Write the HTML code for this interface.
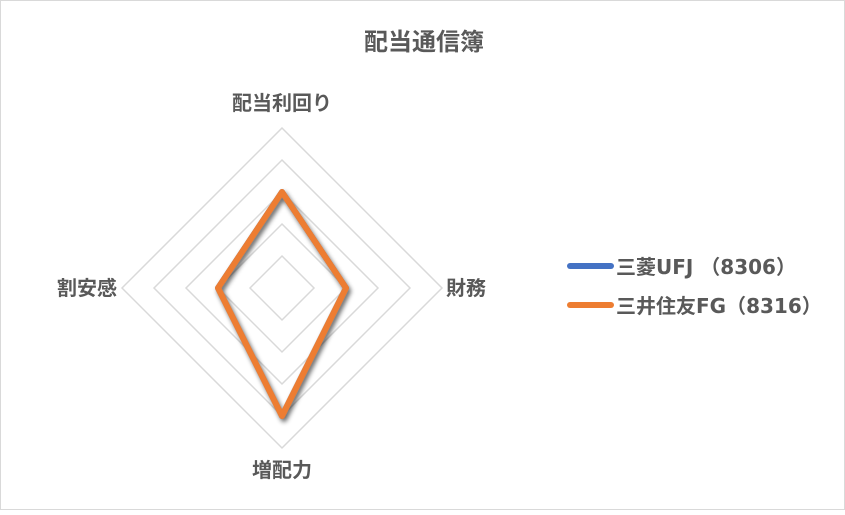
<!DOCTYPE html>
<html><head><meta charset="utf-8"><style>
html,body{margin:0;padding:0;background:#fff;}
body{width:845px;height:510px;overflow:hidden;}
svg text{font-family:"DejaVu Sans","Noto Sans CJK JP",sans-serif;font-weight:bold;fill:#595959;}
</style></head><body>
<svg width="845" height="510" viewBox="0 0 845 510" xmlns="http://www.w3.org/2000/svg">
<defs><filter id="sh" x="-20%" y="-20%" width="140%" height="140%"><feGaussianBlur in="SourceAlpha" stdDeviation="2.5"/><feOffset dx="2" dy="3" result="b"/><feComponentTransfer><feFuncA type="linear" slope="0.6"/></feComponentTransfer><feMerge><feMergeNode/><feMergeNode in="SourceGraphic"/></feMerge></filter></defs>
<rect x="0.5" y="0.5" width="844" height="509" fill="#fff" stroke="#d9d9d9"/>
<text x="424" y="50" font-size="24" text-anchor="middle">配当通信簿</text>
<g fill="none" stroke="#d9d9d9" stroke-width="1.5">
<polygon points="282,256 314,288 282,320 250,288"/>
<polygon points="282,224 346,288 282,352 218,288"/>
<polygon points="282,192 378,288 282,384 186,288"/>
<polygon points="282,160 410,288 282,416 154,288"/>
<polygon points="282,128 442,288 282,448 122,288"/>
</g>
<text x="282" y="110" font-size="20" text-anchor="middle">配当利回り</text>
<text x="446" y="295" font-size="20">財務</text>
<text x="282" y="477" font-size="20" text-anchor="middle">増配力</text>
<text x="117" y="295" font-size="20" text-anchor="end">割安感</text>
<polygon points="282,192 346,288 282,416 218,288" fill="none" stroke="#4472c4" stroke-width="6" stroke-linejoin="round"/>
<polygon points="282,192 346,288 282,416 218,288" fill="none" stroke="#ed7d31" stroke-width="6" stroke-linejoin="round" filter="url(#sh)"/>
<line x1="570" y1="266" x2="611" y2="266" stroke="#4472c4" stroke-width="6" stroke-linecap="round"/>
<line x1="570" y1="305" x2="611" y2="305" stroke="#ed7d31" stroke-width="6" stroke-linecap="round"/>
<text x="616" y="274" font-size="20">三菱UFJ （8306）</text>
<text x="616" y="313" font-size="20">三井住友FG（8316）</text>
</svg>
</body></html>
